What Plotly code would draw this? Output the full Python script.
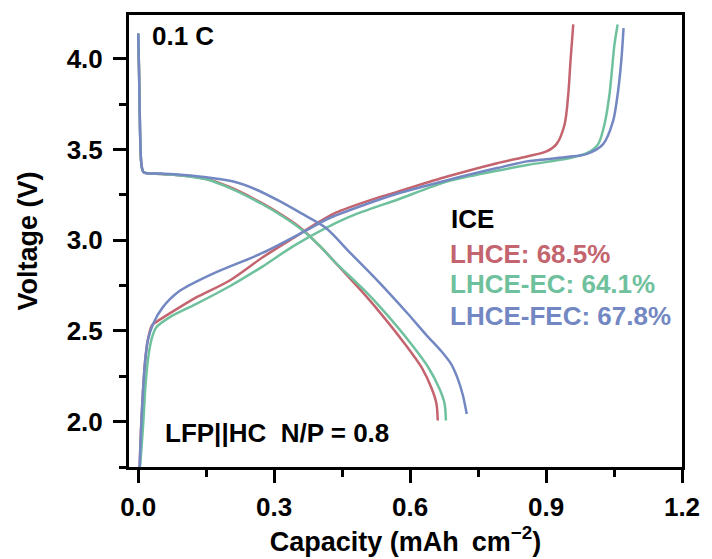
import plotly.graph_objects as go

# ---- data ----
lhce_chg_x = [0.003, 0.006, 0.0105, 0.015, 0.021, 0.030, 0.040, 0.091, 0.128, 0.201, 0.274, 0.347, 0.398, 0.434, 0.529, 0.573, 0.68, 0.792, 0.858, 0.901, 0.923, 0.941, 0.949, 0.954, 0.960]
lhce_chg_y = [1.75, 1.95, 2.17, 2.33, 2.447, 2.53, 2.55, 2.63, 2.685, 2.777, 2.905, 3.02, 3.10, 3.15, 3.235, 3.268, 3.35, 3.425, 3.462, 3.49, 3.53, 3.64, 3.805, 3.99, 4.19]
lhce_dis_x = [0.0, 0.002, 0.004, 0.007, 0.012, 0.05, 0.10, 0.15, 0.20, 0.273, 0.32, 0.361, 0.40, 0.434, 0.492, 0.529, 0.588, 0.625, 0.648, 0.658, 0.661]
lhce_dis_y = [4.14, 3.9, 3.6, 3.42, 3.375, 3.366, 3.356, 3.338, 3.295, 3.205, 3.135, 3.063, 2.97, 2.88, 2.722, 2.615, 2.43, 2.30, 2.18, 2.10, 2.006]

ec_chg_x = [0.004, 0.007, 0.011, 0.016, 0.022, 0.030, 0.040, 0.069, 0.128, 0.201, 0.274, 0.347, 0.463, 0.573, 0.683, 0.792, 0.858, 0.95, 0.99, 1.015, 1.029, 1.040, 1.051, 1.058]
ec_chg_y = [1.75, 1.85, 1.99, 2.2, 2.354, 2.46, 2.52, 2.575, 2.649, 2.745, 2.855, 2.975, 3.126, 3.225, 3.325, 3.383, 3.415, 3.452, 3.48, 3.53, 3.64, 3.805, 4.08, 4.19]
ec_dis_x = [0.0, 0.002, 0.004, 0.007, 0.012, 0.05, 0.10, 0.15, 0.20, 0.273, 0.32, 0.361, 0.40, 0.434, 0.500, 0.540, 0.602, 0.640, 0.665, 0.676, 0.679]
ec_dis_y = [4.14, 3.9, 3.6, 3.42, 3.375, 3.366, 3.356, 3.336, 3.29, 3.20, 3.13, 3.058, 2.97, 2.88, 2.722, 2.615, 2.43, 2.30, 2.18, 2.10, 2.006]

fec_chg_x = [0.003, 0.006, 0.0105, 0.015, 0.021, 0.033, 0.054, 0.091, 0.164, 0.274, 0.369, 0.42, 0.529, 0.573, 0.68, 0.792, 0.858, 0.901, 0.95, 0.989, 1.026, 1.048, 1.058, 1.066, 1.071]
fec_chg_y = [1.75, 1.95, 2.17, 2.33, 2.447, 2.54, 2.63, 2.72, 2.815, 2.93, 3.052, 3.12, 3.222, 3.258, 3.33, 3.398, 3.435, 3.447, 3.46, 3.475, 3.53, 3.658, 3.805, 3.989, 4.17]
fec_dis_x = [0.0, 0.002, 0.004, 0.007, 0.012, 0.05, 0.10, 0.15, 0.208, 0.26, 0.31, 0.36, 0.413, 0.47, 0.529, 0.595, 0.635, 0.668, 0.69, 0.704, 0.716, 0.725]
fec_dis_y = [4.14, 3.9, 3.6, 3.42, 3.375, 3.368, 3.36, 3.348, 3.325, 3.28, 3.218, 3.148, 3.07, 2.925, 2.775, 2.595, 2.48, 2.391, 2.32, 2.244, 2.15, 2.042]

series_names = ["LHCE", "LHCE-EC", "LHCE-FEC"]
ice_values = ["68.5%", "64.1%", "67.8%"]
colors = ["#c3646e", "#6fc19d", "#7388c2"]

x_ticks = [0.0, 0.3, 0.6, 0.9, 1.2]
y_ticks = [2.0, 2.5, 3.0, 3.5, 4.0]

FONT = "Liberation Sans, Arial, sans-serif"

fig = go.Figure()
curves = [
    (lhce_chg_x, lhce_chg_y, lhce_dis_x, lhce_dis_y),
    (ec_chg_x, ec_chg_y, ec_dis_x, ec_dis_y),
    (fec_chg_x, fec_chg_y, fec_dis_x, fec_dis_y),
]
for (cx, cy, dx, dy), name, col in zip(curves, series_names, colors):
    for xs, ys in ((cx, cy), (dx, dy)):
        fig.add_trace(go.Scatter(x=xs, y=ys, mode="lines", name=name, showlegend=False,
                                 line=dict(color=col, width=2.5, shape="spline", smoothing=0.8)))

axis_common = dict(
    showline=True, linecolor="black", linewidth=3, mirror=True,
    ticks="outside", ticklen=13, tickwidth=3, tickcolor="black",
    showgrid=False, zeroline=False,
    tickfont=dict(family=FONT, size=26, color="black", weight="bold"),
    title_font=dict(family=FONT, size=27, color="black", weight="bold"),
)

fig.update_xaxes(range=[-0.0204, 1.2], tickvals=x_ticks, ticktext=[f"{v:.1f}" for v in x_ticks],
                 minor=dict(ticks="outside", ticklen=7, tickwidth=3, tickcolor="black", dtick=0.15, tick0=0.15),
                 title=dict(text="Capacity (mAh\u00a0\u2009cm<sup>−2</sup>)", standoff=6),
                 ticklabelstandoff=2,
                 **axis_common)
fig.update_yaxes(range=[1.75, 4.242], tickvals=y_ticks, ticktext=[f"{v:.1f}" for v in y_ticks],
                 minor=dict(ticks="outside", ticklen=7, tickwidth=3, tickcolor="black", dtick=0.25, tick0=1.75),
                 title=dict(text="Voltage (V)", standoff=22),
                 ticklabelstandoff=5,
                 **axis_common)

annots = [
    dict(x=0.0256, y=4.127, text="0.1 C", color="black"),
    dict(x=0.054, y=1.938, text="LFP||HC\u00a0\u00a0N/P = 0.8", color="black"),
    dict(x=0.686, y=3.119, text="ICE", color="black"),
]
ice_y = [2.922, 2.758, 2.585]
for name, val, col, yy in zip(series_names, ice_values, colors, ice_y):
    annots.append(dict(x=0.684, y=yy, text=f"{name}: {val}", color=col))

for a in annots:
    fig.add_annotation(x=a["x"], y=a["y"], xref="x", yref="y", text=a["text"], showarrow=False,
                       xanchor="left", yanchor="middle",
                       font=dict(family=FONT, size=26, color=a["color"], weight="bold"))

fig.update_layout(
    width=712, height=559,
    margin=dict(l=129, r=25, t=14, b=92),
    plot_bgcolor="white", paper_bgcolor="white",
    showlegend=False,
)

fig.write_html("out.html")
